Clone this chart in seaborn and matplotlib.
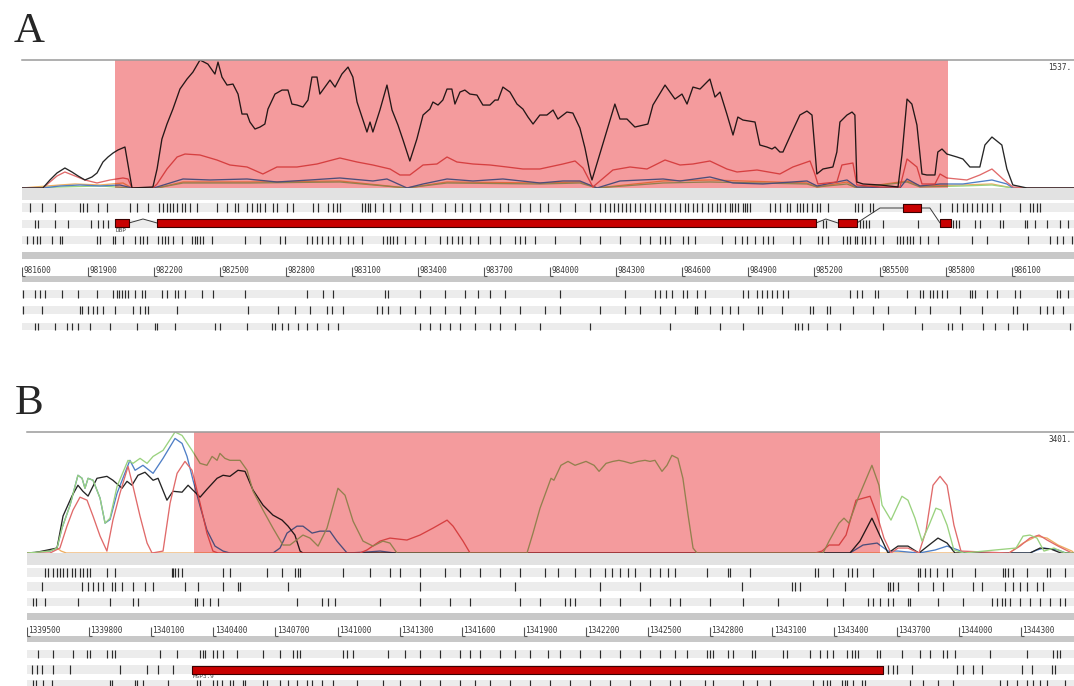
import numpy as np
import pandas as pd
import matplotlib
matplotlib.use("Agg")
import matplotlib.pyplot as plt
import matplotlib.colors as mcolors
import seaborn as sns

# ---------------------------------------------------------------- data ----
# Panel A window (bp) and highlighted region (offsets from window start)
A_START, A_END = 981600, 986382
a_pink = [423, 4209]
a_ruler = [981600, 981900, 982200, 982500, 982800, 983100, 983400, 983700,
           984000, 984300, 984600, 984900, 985200, 985500, 985800, 986100]
a_max_label = "1537."

# coverage curves, panel A (position offset in bp, coverage)
a_black_pos = [0, 95, 127, 159, 195, 227, 255, 286, 318, 341, 368, 391, 414, 436, 468, 500, 595, 614, 636, 659,
               686, 718, 750, 777, 809, 845, 877, 891, 909, 932, 959, 982, 1000, 1023, 1036, 1059, 1082, 1104,
               1118, 1150, 1182, 1209, 1227, 1250, 1277, 1300, 1318, 1341, 1354, 1377, 1400, 1423, 1454, 1482,
               1504, 1523, 1550, 1568, 1582, 1595, 1627, 1659, 1682, 1709, 1732, 1763, 1795, 1823, 1854, 1868,
               1891, 1913, 1932, 1954, 1968, 1991, 2013, 2036, 2068, 2095, 2127, 2150, 2164, 2186, 2218, 2250,
               2277, 2300, 2323, 2354, 2386, 2414, 2436, 2477, 2504, 2536, 2559, 2582, 2591, 2695, 2718, 2750,
               2786, 2845, 2868, 2923, 2968, 3000, 3023, 3050, 3082, 3127, 3150, 3173, 3204, 3232, 3254, 3277,
               3332, 3354, 3386, 3409, 3423, 3445, 3459, 3500, 3536, 3568, 3591, 3604, 3613, 3641, 3686, 3704,
               3718, 3750, 3773, 3786, 3795, 3823, 3900, 3982, 4000, 4023, 4045, 4068, 4091, 4113, 4150, 4163,
               4182, 4204, 4250, 4277, 4309, 4354, 4377, 4409, 4454, 4477, 4504, 4568, 4782]
a_black_cov = [0, 0, 96, 180, 240, 192, 144, 96, 132, 180, 312, 372, 420, 456, 492, 0, 12, 228, 588, 768,
               948, 1188, 1308, 1392, 1537, 1488, 1368, 1512, 1332, 1236, 1248, 1128, 888, 888, 792, 708, 732, 768,
               948, 1128, 1176, 1176, 1008, 996, 972, 1056, 1332, 1332, 1128, 1212, 1296, 1212, 1368, 1452,
               1332, 1032, 816, 672, 792, 672, 936, 1236, 936, 756, 576, 324, 588, 876, 948, 1032,
               996, 1056, 1188, 1188, 1008, 1152, 1176, 1128, 1116, 996, 996, 1056, 1056, 1212, 1152, 1008,
               948, 852, 768, 876, 876, 936, 828, 912, 900, 720, 480, 180, 96, 1008, 828, 828,
               732, 768, 996, 1236, 1068, 1128, 1008, 1212, 1188, 1308, 1092, 1152, 888, 636, 852, 816,
               792, 516, 492, 468, 492, 432, 432, 672, 876, 924, 876, 468, 168, 228, 252, 432,
               792, 876, 912, 876, 72, 48, 36, 12, 396, 1068, 1008, 756, 168, 156, 156, 432,
               468, 408, 372, 348, 252, 252, 516, 612, 516, 228, 36, 0, 0]

a_red_pos = [0, 95, 127, 159, 195, 241, 286, 341, 400, 459, 482, 500, 595, 614, 659, 705, 741, 809, 886, 945,
             1023, 1095, 1159, 1250, 1341, 1445, 1523, 1595, 1673, 1718, 1763, 1823, 1886, 1932, 1977, 2050,
             2127, 2204, 2277, 2354, 2459, 2514, 2550, 2595, 2686, 2764, 2841, 2923, 2991, 3050, 3127, 3204,
             3250, 3341, 3445, 3504, 3582, 3604, 3618, 3704, 3727, 3777, 3795, 3900, 3991, 4023, 4068, 4091,
             4150, 4173, 4204, 4295, 4354, 4409, 4459, 4504, 4568, 4782]
a_red_cov = [0, 0, 72, 144, 192, 144, 96, 60, 96, 120, 108, 0, 0, 48, 228, 372, 408, 396, 336, 276,
             252, 168, 252, 252, 288, 360, 312, 276, 228, 156, 156, 276, 288, 372, 312, 288,
             276, 252, 228, 228, 288, 324, 240, 12, 216, 252, 228, 336, 276, 288, 324, 228,
             192, 216, 168, 252, 324, 168, 48, 72, 276, 300, 36, 12, 12, 348, 252, 48,
             48, 168, 120, 96, 156, 228, 108, 12, 0, 0]

a_blue_pos = [0, 95, 173, 264, 355, 445, 500, 595, 614, 673, 732, 855, 1023, 1159, 1309, 1445, 1595, 1659,
              1750, 1823, 1932, 2050, 2186, 2354, 2459, 2536, 2614, 2718, 2914, 2991, 3127, 3232, 3368, 3568,
              3614, 3750, 3795, 3991, 4023, 4082, 4173, 4277, 4409, 4477, 4504, 4782]
a_blue_cov = [0, 0, 24, 36, 24, 36, 0, 0, 12, 60, 108, 96, 108, 72, 96, 120, 84, 108,
              0, 48, 108, 84, 108, 60, 84, 84, 0, 84, 108, 84, 132, 60, 48, 84,
              24, 96, 12, 0, 108, 24, 48, 48, 96, 48, 0, 0]

a_green_pos = [0, 173, 355, 500, 614, 732, 1036, 1445, 1750, 1932, 2354, 2536, 2614, 2914, 3127, 3568,
               3614, 3750, 3795, 4023, 4082, 4277, 4409, 4504, 4782]
a_green_cov = [0, 12, 24, 0, 0, 60, 60, 72, 0, 60, 48, 60, 0, 60, 72, 48,
               12, 48, 0, 72, 12, 24, 36, 0, 0]

a_orange_pos = [0, 173, 241, 355, 459, 500, 614, 732, 1036, 1445, 1750, 1932, 2354, 2536, 2614, 2914, 3127,
                3568, 3614, 3750, 3795, 4023, 4082, 4277, 4409, 4504, 4782]
a_orange_cov = [0, 36, 48, 36, 60, 0, 0, 72, 72, 84, 0, 72, 60, 72, 0, 84, 96,
                60, 12, 72, 0, 84, 24, 36, 48, 0, 0]

# variant ticks, panel A (offsets in bp), three rows above and three below the ruler
a_row1 = [36, 91, 150, 264, 277, 295, 345, 386, 491, 523, 573, 623, 641, 659, 673, 686, 705, 727, 741, 764,
          795, 886, 932, 968, 982, 1023, 1045, 1068, 1082, 1104, 1141, 1159, 1204, 1232, 1323, 1345, 1391,
          1413, 1432, 1445, 1545, 1559, 1573, 1582, 1604, 1641, 1673, 1718, 1773, 1809, 1864, 1923, 1968,
          2000, 2036, 2082, 2127, 2173, 2209, 2264, 2309, 2354, 2391, 2445, 2514, 2582, 2627, 2650, 2673,
          2691, 2709, 2727, 2745, 2764, 2786, 2809, 2832, 2855, 2877, 2900, 2923, 2945, 2968, 2991, 3014,
          3027, 3050, 3068, 3091, 3118, 3136, 3159, 3173, 3195, 3218, 3227, 3241, 3254, 3277, 3286, 3295,
          3309, 3400, 3423, 3445, 3477, 3491, 3523, 3536, 3550, 3568, 3591, 3614, 3627, 3664, 3786, 3800,
          3818, 3855, 3868, 4173, 4227, 4250, 4277, 4295, 4318, 4341, 4364, 4386, 4409, 4445, 4536, 4582,
          4595, 4614, 4627]
a_row2 = [59, 73, 150, 209, 314, 345, 368, 391, 3641, 3654, 3809, 3823, 3836, 3850, 3913, 4073, 4232, 4245,
          4259, 4331, 4354, 4445, 4459, 4559, 4568, 4604, 4659, 4718, 4754]
a_row3 = [23, 50, 68, 82, 136, 173, 182, 341, 355, 414, 423, 459, 514, 536, 550, 568, 618, 636, 650, 664,
          686, 727, 773, 786, 795, 809, 823, 864, 1014, 1082, 1173, 1195, 1295, 1318, 1341, 1364, 1391,
          1413, 1445, 1482, 1504, 1545, 1641, 1659, 1673, 1686, 1704, 1741, 1786, 1832, 1900, 1932, 1954,
          1982, 2000, 2036, 2073, 2127, 2173, 2241, 2264, 2286, 2332, 2423, 2536, 2627, 2718, 2809, 2855,
          2900, 2923, 2945, 3004, 3027, 3059, 3182, 3241, 3273, 3295, 3332, 3368, 3391, 3413, 3504, 3536,
          3618, 3636, 3664, 3732, 3750, 3764, 3786, 3795, 3818, 3832, 3855, 3877, 3913, 3977, 3991, 4004,
          4023, 4036, 4050, 4082, 4118, 4163, 4318, 4386, 4573, 4673, 4704, 4732, 4773]
a_row4 = [5, 59, 82, 105, 182, 255, 341, 414, 432, 441, 455, 468, 482, 514, 545, 559, 636, 659, 695, 709,
          741, 818, 868, 1014, 1295, 1368, 1413, 1650, 1664, 1809, 1923, 2013, 2073, 2127, 2195, 2445, 2741,
          2877, 2900, 2927, 2955, 3004, 3023, 3068, 3104, 3277, 3300, 3341, 3364, 3386, 3409, 3432, 3459,
          3482, 3764, 3795, 3818, 3877, 3891, 4023, 4082, 4095, 4127, 4141, 4159, 4182, 4204, 4309, 4318,
          4331, 4386, 4432, 4513, 4536, 4704, 4718, 4754]
a_row5 = [5, 91, 264, 273, 300, 323, 341, 368, 423, 505, 536, 559, 573, 705, 1027, 1164, 1241, 1309, 1386,
          1409, 1459, 1614, 1636, 1664, 1718, 1786, 1855, 1923, 1991, 2059, 2173, 2264, 2377, 2445, 2627,
          2741, 2809, 2900, 2968, 3059, 3068, 3127, 3182, 3218, 3254, 3345, 3364, 3454, 3582, 3595, 3659,
          3673, 3777, 3868, 3936, 4059, 4127, 4263, 4364, 4504, 4523, 4627, 4659, 4686, 4732]
a_row6 = [59, 73, 150, 205, 227, 255, 309, 400, 523, 605, 614, 695, 877, 900, 1023, 1136, 1150, 1182, 1209,
          1254, 1295, 1341, 1391, 1436, 1809, 1855, 1900, 1945, 1991, 2059, 2127, 2173, 2241, 2354, 2582,
          2945, 3173, 3277, 3514, 3527, 3545, 3573, 3659, 3718, 3913, 4091, 4209, 4227, 4273, 4368, 4423,
          4482, 4550, 4568, 4763]

# gene model, panel A: exons (offsets), the row each sits on, intron apex positions
a_exon_start = [423, 614, 3709, 4004, 4173]
a_exon_end = [486, 3609, 3795, 4086, 4223]
a_exon_row = [2, 2, 2, 1, 2]
a_intron_mid = [550, 3654, 3900, 4127]
a_gene_name = "DBP"

# Panel B window (bp) and highlighted region
B_START, B_END = 1339500, 1344557
b_pink = [807, 4120]
b_ruler = [1339500, 1339800, 1340100, 1340400, 1340700, 1341000, 1341300, 1341600, 1341900,
           1342200, 1342500, 1342800, 1343100, 1343400, 1343700, 1344000, 1344300]
b_max_label = "3401."

b_black_pos = [0, 29, 145, 174, 217, 246, 270, 295, 338, 386, 415, 459, 483, 507, 536, 570, 609, 633, 676,
               705, 749, 778, 802, 836, 869, 918, 947, 980, 1019, 1053, 1092, 1140, 1188, 1232, 1261, 1294,
               1319, 1333, 3975, 4023, 4081, 4125, 4159, 4207, 4255, 4308, 4357, 4400, 4444, 4482, 4844,
               4893, 4946, 4994, 5057]
b_black_cov = [0, 0, 140, 1040, 1600, 1905, 1735, 1600, 2100, 2155, 2045, 1820, 2015, 1905, 2185, 2270, 2045,
               2100, 1485, 1735, 1710, 1905, 1765, 1570, 1790, 2100, 2185, 2155, 2325, 2295, 1765, 1345, 1065,
               925, 755, 505, 55, 0, 0, 335, 980, 420, 0, 195, 195, 0, 225, 420, 280, 0, 0,
               140, 110, 0, 0]

b_green_pos = [0, 111, 145, 169, 208, 246, 266, 280, 295, 319, 353, 377, 401, 435, 488, 512, 546, 580, 609,
               657, 715, 749, 797, 836, 869, 894, 918, 932, 956, 980, 1029, 1063, 1092, 1140, 1188, 1236,
               1270, 1333, 1367, 1406, 1449, 1502, 1536, 1575, 1623, 1671, 1719, 1753, 1787, 2415, 2444,
               2478, 2531, 2545, 2579, 2613, 2647, 2700, 2739, 2763, 2797, 2830, 2859, 2884, 2917, 2951,
               2985, 3009, 3033, 3067, 3091, 3115, 3144, 3168, 3193, 3217, 3236, 3845, 3874, 3922, 3946,
               3970, 4014, 4081, 4115, 4130, 4173, 4226, 4255, 4289, 4323, 4357, 4390, 4415, 4444, 4477,
               4526, 4675, 4777, 4811, 4844, 4878, 4912, 4960, 5014, 5057]
b_green_cov = [0, 55, 140, 700, 1345, 2185, 2100, 1820, 2100, 2045, 1540, 840, 980, 1875, 2605, 2520, 2660,
               2520, 2715, 2885, 3401, 3305, 2885, 2520, 2465, 2715, 2605, 2800, 2660, 2605, 2605, 2325,
               1735, 1205, 700, 225, 225, 505, 420, 195, 700, 1820, 1625, 895, 335, 195, 335, 280, 0, 0,
               560, 1260, 2100, 2045, 2465, 2575, 2465, 2575, 2465, 2295, 2520, 2575, 2605, 2575, 2520,
               2575, 2605, 2575, 2605, 2295, 2465, 2745, 2660, 2100, 1065, 140, 0, 0, 335, 840, 980,
               840, 1540, 2465, 1905, 1345, 925, 1595, 1485, 980, 335, 785, 1260, 1205, 785, 85,
               0, 85, 140, 475, 505, 420, 55, 140, 0, 0]

b_red_pos = [0, 111, 159, 193, 222, 256, 290, 319, 353, 386, 415, 449, 488, 512, 546, 580, 604, 657, 691,
             725, 763, 797, 836, 869, 898, 923, 1608, 1642, 1705, 1753, 1835, 1898, 1961, 2029, 2058, 2106,
             2140, 3806, 3840, 3874, 3922, 3956, 4004, 4072, 4106, 4139, 4173, 4207, 4255, 4308, 4342, 4376,
             4410, 4444, 4477, 4511, 4743, 4796, 4844, 4888, 4927, 4980, 5047, 5057]
b_red_cov = [0, 0, 140, 755, 1205, 1570, 1485, 1035, 475, 55, 925, 1680, 2435, 1875, 1035, 280, 0, 55, 1400,
             2240, 2575, 2325, 1400, 560, 55, 0, 0, 85, 335, 420, 365, 505, 700, 925, 755, 335,
             0, 0, 55, 225, 225, 505, 1485, 1595, 1065, 420, 0, 140, 140, 0, 615, 1905,
             2155, 1905, 785, 55, 0, 195, 420, 505, 365, 195, 0, 0]

b_blue_pos = [0, 111, 145, 169, 208, 246, 266, 280, 295, 319, 353, 377, 401, 435, 497, 522, 560, 609, 657,
              715, 749, 773, 802, 836, 869, 908, 947, 980, 1188, 1222, 1256, 1304, 1333, 1377, 1415, 1463,
              1497, 1546, 1642, 1705, 1777, 3975, 3990, 4038, 4106, 4159, 4207, 4308, 4386, 4444, 4497, 4531,
              4844, 4878, 4912, 4980, 5018, 5057]
b_blue_cov = [0, 55, 140, 700, 1345, 2185, 2100, 1820, 2100, 2045, 1540, 840, 940, 1680, 2605, 2325, 2465,
              2240, 2660, 3220, 3080, 2715, 2045, 1315, 645, 195, 55, 0, 0, 140, 560, 755, 755, 560, 615, 615,
              335, 0, 28, 55, 0, 0, 55, 225, 280, 55, 55, 0, 85, 195, 85, 0,
              0, 85, 140, 85, 0, 0]

b_orange_pos = [0, 63, 121, 145, 165, 190, 4743, 4811, 4878, 4927, 4980, 5047, 5057]
b_orange_cov = [0, 28, 85, 140, 55, 0, 0, 280, 475, 420, 225, 55, 0]

b_row1 = [87, 101, 126, 145, 159, 174, 193, 217, 232, 256, 270, 290, 304, 386, 425, 700, 705, 715, 729, 749,
          947, 980, 1159, 1232, 1294, 1309, 1319, 1526, 1657, 1753, 1802, 1898, 2019, 2091, 2188, 2285,
          2381, 2502, 2565, 2647, 2719, 2792, 2826, 2864, 2903, 2937, 3009, 3057, 3096, 3130, 3284, 3386,
          3395, 3492, 3806, 3821, 3893, 3965, 3985, 4009, 4086, 4304, 4313, 4337, 4361, 4395, 4444, 4468,
          4579, 4714, 4724, 4738, 4762, 4830, 4927, 4941, 5014]
b_row2 = [72, 266, 295, 319, 343, 367, 411, 425, 459, 512, 570, 609, 763, 826, 947, 1019, 1029, 1261, 1898,
          2357, 2768, 2961, 3453, 3695, 3709, 3734, 3951, 4159, 4168, 4183, 4207, 4304, 4376, 4424, 4569,
          4613, 4724, 4762, 4796, 4830, 4878, 4907]
b_row3 = [29, 43, 87, 246, 401, 512, 536, 811, 821, 850, 884, 923, 1304, 1425, 1454, 1488, 1705, 1898, 2043,
          2140, 2381, 2478, 2599, 2623, 2647, 2768, 2864, 3009, 3106, 3154, 3299, 3458, 3627, 3864, 3941,
          4062, 4086, 4120, 4159, 4183, 4255, 4265, 4400, 4521, 4661, 4685, 4709, 4724, 4748, 4796, 4844,
          4893, 4941, 4989, 5014]
b_row4 = [53, 126, 222, 290, 304, 386, 411, 425, 642, 725, 836, 850, 860, 898, 918, 947, 1014, 1140, 1222,
          1285, 1304, 1319, 1526, 1546, 1575, 1744, 1826, 1898, 1995, 2091, 2140, 2188, 2285, 2357, 2429,
          2516, 2574, 2671, 2768, 2864, 2961, 3057, 3130, 3188, 3284, 3299, 3313, 3386, 3410, 3502, 3516,
          3651, 3671, 3782, 3830, 3864, 3893, 3961, 3985, 3999, 4014, 4106, 4120, 4226, 4313, 4361, 4424,
          4444, 4482, 4651, 4830, 4956, 4975, 4989]
b_row5 = [24, 48, 72, 126, 208, 449, 580, 633, 705, 4159, 4183, 4202, 4275, 4492, 4521, 4569, 4613, 4806,
          4854, 4951, 4965]
b_row6 = [29, 43, 77, 121, 401, 411, 522, 531, 560, 681, 821, 836, 898, 918, 942, 980, 995, 1043, 1053,
          1140, 1159, 1222, 1261, 1304, 1352, 1377, 1425, 1478, 1594, 1719, 1802, 1898, 1995, 2091, 2164,
          2236, 2333, 2429, 2526, 2623, 2719, 2816, 2912, 3009, 3106, 3154, 3275, 3313, 3458, 3526, 3589,
          3796, 3845, 3864, 3878, 3936, 3951, 3961, 3990, 4033, 4048, 4265, 4328, 4400, 4473, 4700, 4733,
          4782, 4830, 4859, 4893, 4927, 5014]

b_exon_start = [797]
b_exon_end = [4134]
b_gene_name = "MSP3.9"

# --------------------------------------------------------------- style ----
sns.set_style("white")
plt.rcParams["font.family"] = ["DejaVu Sans"]

W, H = 1074, 686
PINK = "#f49b9d"
BLACK, RED, BLUE, GREEN, ORANGE = "#262626", "#e06a6a", "#4f7fc6", "#9ad27f", "#eeae62"
TICK_C = "#2b2b2b"
BAND_C = "#ececec"
UNDER_C = "#e2e2e2"
BAR_C = "#c8c8c8"
MONO = "DejaVu Sans Mono"

fig = plt.figure(figsize=(W / 100, H / 100), dpi=100)
fig.patch.set_facecolor("white")


def px_axes(x0, y0, x1, y1):
    ax = fig.add_axes([x0 / W, 1 - y1 / H, (x1 - x0) / W, (y1 - y0) / H])
    ax.set_facecolor("none")
    return ax


def tinted(color):
    """Colour of a line seen through the highlight (multiply blend)."""
    return tuple(np.array(mcolors.to_rgb(color)) * np.array(mcolors.to_rgb(PINK)))


def coverage_panel(ax, start, end, pink, curves, top, label):
    ax.set_xlim(start, end)
    ax.set_ylim(-top * 0.008, top)
    for s in ("left", "right", "bottom"):
        ax.spines[s].set_visible(False)
    ax.spines["top"].set_color("#9a9a9a")
    ax.spines["top"].set_linewidth(1.1)
    ax.spines["top"].set_zorder(10)
    ax.set_xticks([])
    ax.set_yticks([])
    span = ax.axvspan(start + pink[0], start + pink[1], color=PINK, lw=0, zorder=3)
    for pos, cov, col in curves:
        df = pd.DataFrame({"pos": start + np.asarray(pos), "cov": cov})
        sns.lineplot(data=df, x="pos", y="cov", ax=ax, color=col, lw=0.95,
                     estimator=None, sort=False, legend=False, zorder=2)
    for pos, cov, col in curves:
        df = pd.DataFrame({"pos": start + np.asarray(pos), "cov": cov})
        sns.lineplot(data=df, x="pos", y="cov", ax=ax, color=tinted(col), lw=0.95,
                     estimator=None, sort=False, legend=False, zorder=4)
        ax.lines[-1].set_clip_path(span)
    ax.set_xlabel("")
    ax.set_ylabel("")
    ax.text(0.9755, 0.975, label, transform=ax.transAxes, ha="left", va="top",
            fontsize=5.5, family=MONO, color="#333333")


def track_panel(ax, start, end, height, layout, rows, ruler, bp_per_px):
    ax.set_xlim(start, end)
    ax.set_ylim(height, 0)
    ax.axis("off")
    ax.axhspan(*layout["under"], color=UNDER_C, lw=0, zorder=0)
    for band in layout["bars"]:
        ax.axhspan(*band, color=BAR_C, lw=0, zorder=0)
    for band, ticks in zip(layout["rows"], rows):
        ax.axhspan(*band, color=BAND_C, lw=0, zorder=0)
        ax.vlines(start + np.asarray(ticks), band[0], band[1], color=TICK_C, lw=0.85, zorder=2)
    b0, b1 = layout["bracket"]
    ax.vlines(ruler, b0, b1, color="#555555", lw=0.8)
    ax.hlines([b1] * len(ruler), ruler, np.asarray(ruler) + 3 * bp_per_px, color="#555555", lw=0.8)
    for p in ruler:
        ax.text(p + 1.2 * bp_per_px, b1 - 1.2, f"{p}", ha="left", va="bottom",
                fontsize=5.6, family=MONO, color="#3a3a3a")


def exon(ax, x0, x1, y0, y1):
    ax.fill_between([x0, x1], [y0, y0], [y1, y1], facecolor="#c80000",
                    edgecolor="#3a0000", lw=0.8, zorder=5)


# ------------------------------------------------------------- panel A ----
fig.text(14 / W, 1 - 42 / H, "A", fontsize=31, family="Liberation Serif", va="baseline")
ax_a = px_axes(22, 60, 1074, 189)
coverage_panel(ax_a, A_START, A_END, a_pink,
               [(a_orange_pos, a_orange_cov, ORANGE), (a_green_pos, a_green_cov, GREEN),
                (a_blue_pos, a_blue_cov, BLUE), (a_red_pos, a_red_cov, RED),
                (a_black_pos, a_black_cov, BLACK)],
               1537, a_max_label)

a_layout = {"under": (0, 12), "bars": [(64, 71), (88, 94)],
            "rows": [(15, 24), (32, 40), (48, 56), (102, 110), (118, 126), (135, 142)],
            "bracket": (79, 88)}
trk_a = px_axes(22, 188, 1074, 336)
a_bp_px = (A_END - A_START) / 1052
track_panel(trk_a, A_START, A_END, 148, a_layout,
            [a_row1, a_row2, a_row3, a_row4, a_row5, a_row6], a_ruler, a_bp_px)

row_box = {1: (16, 24), 2: (31, 39)}
for s, e, r in zip(a_exon_start, a_exon_end, a_exon_row):
    exon(trk_a, A_START + s, A_START + e, *row_box[r])
for i, mid in enumerate(a_intron_mid):
    r0, r1 = a_exon_row[i], a_exon_row[i + 1]
    y0 = sum(row_box[r0]) / 2
    y1 = sum(row_box[r1]) / 2
    if r0 == r1:
        ym = y0 - 4
    else:
        ym = min(y0, y1)
    trk_a.plot([A_START + a_exon_end[i], A_START + mid, A_START + a_exon_start[i + 1]],
               [y0, ym, y1], color="#3a3a3a", lw=0.7, zorder=4)
trk_a.text(A_START + a_exon_start[0] + a_bp_px, 40.5, a_gene_name, ha="left", va="top",
           fontsize=4.3, family=MONO, color="#444444")

# ------------------------------------------------------------- panel B ----
fig.text(15 / W, 1 - 414 / H, "B", fontsize=31, family="Liberation Serif", va="baseline")
ax_b = px_axes(27, 432, 1074, 554)
coverage_panel(ax_b, B_START, B_END, b_pink,
               [(b_orange_pos, b_orange_cov, ORANGE), (b_blue_pos, b_blue_cov, BLUE),
                (b_black_pos, b_black_cov, BLACK), (b_red_pos, b_red_cov, RED),
                (b_green_pos, b_green_cov, GREEN)],
               3401, b_max_label)

b_layout = {"under": (0, 12), "bars": [(60, 67), (83, 89)],
            "rows": [(15, 24), (29, 38), (45, 53), (97, 105), (112, 121), (127, 135)],
            "bracket": (74, 83)}
trk_b = px_axes(27, 553, 1074, 686)
b_bp_px = (B_END - B_START) / 1047
track_panel(trk_b, B_START, B_END, 133, b_layout,
            [b_row1, b_row2, b_row3, b_row4, b_row5, b_row6], b_ruler, b_bp_px)
for s, e in zip(b_exon_start, b_exon_end):
    exon(trk_b, B_START + s, B_START + e, 112.5, 120.5)
trk_b.text(B_START + b_exon_start[0] + b_bp_px, 121.3, b_gene_name, ha="left", va="top",
           fontsize=4.3, family=MONO, color="#444444")

fig.savefig("out.png", dpi=100, facecolor="white")
